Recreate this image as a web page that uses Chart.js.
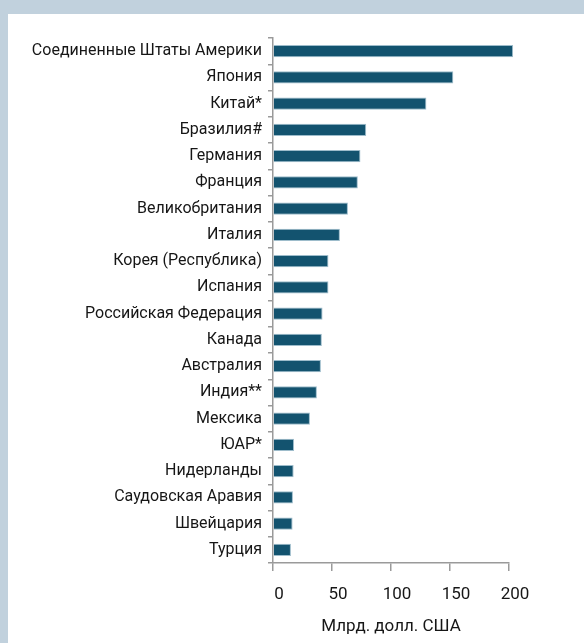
<!DOCTYPE html>
<html>
<head>
<meta charset="utf-8">
<script src="https://cdn.jsdelivr.net/npm/chart.js@4"></script>
<style>
  html, body { margin: 0; padding: 0; }
  body { width: 584px; height: 643px; background: #c1d1dd; position: relative; overflow: hidden; }
  #panel { position: absolute; left: 8px; top: 14px; width: 576px; height: 629px; background: #fff; }
  #chart { display: block; }
</style>
</head>
<body>
<div id="panel"><canvas id="chart" width="576" height="629"></canvas></div>
<script>
// Страны (категории)
const countries = [
  "Соединенные Штаты Америки", "Япония", "Китай*", "Бразилия#", "Германия",
  "Франция", "Великобритания", "Италия", "Корея (Республика)", "Испания",
  "Российская Федерация", "Канада", "Австралия", "Индия**", "Мексика",
  "ЮАР*", "Нидерланды", "Саудовская Аравия", "Швейцария", "Турция"
];

// Значения, млрд. долл. США
const values = [
  203.5, 152.8, 130, 79, 74.1,
  71.9, 63.5, 56.7, 47, 47,
  42, 41.4, 40.6, 37.2, 31.3,
  17.8, 17.5, 16.9, 16.6, 15.2
];

// Подписи оси X
const xTicks = [0, 50, 100, 150, 200];
const xTitle = "Млрд. долл. США";

const fontFamily = "Roboto, 'Noto Sans', sans-serif";
const textColor = '#161616';

const ctx = document.getElementById('chart').getContext('2d');
new Chart(ctx, {
  type: 'bar',
  data: {
    labels: countries,
    datasets: [{
      data: values,
      backgroundColor: '#13536f',
      borderColor: '#9dbccb',
      borderWidth: 1,
      barPercentage: 0.46,
      categoryPercentage: 1,
      clip: false
    }]
  },
  options: {
    indexAxis: 'y',
    responsive: false,
    animation: false,
    layout: { padding: { top: 24, right: 75, bottom: 0, left: 0 } },
    plugins: {
      legend: { display: false },
      tooltip: { enabled: false }
    },
    scales: {
      x: {
        min: 0,
        max: 200,
        afterBuildTicks: scale => { scale.ticks = xTicks.map(v => ({ value: v })); },
        afterFit: scale => { scale.height = 80; },
        border: { color: '#9a9a9a', width: 1.5 },
        grid: { drawOnChartArea: false, tickLength: 8, color: '#9a9a9a', lineWidth: 1.5 },
        ticks: { color: textColor, font: { family: fontFamily, size: 17 }, padding: 14, labelOffset: 6 },
        title: { display: true, text: xTitle, color: textColor, font: { family: fontFamily, size: 17 }, padding: { top: 0, bottom: 6 } }
      },
      y: {
        afterFit: scale => { scale.width = 265; },
        border: { color: '#9a9a9a', width: 1.5 },
        grid: { drawOnChartArea: false, tickLength: 5, color: '#9a9a9a', lineWidth: 1.5, offset: true },
        ticks: { color: textColor, font: { family: fontFamily, size: 16 }, padding: 6, autoSkip: false }
      }
    }
  }
});
</script>
</body>
</html>
